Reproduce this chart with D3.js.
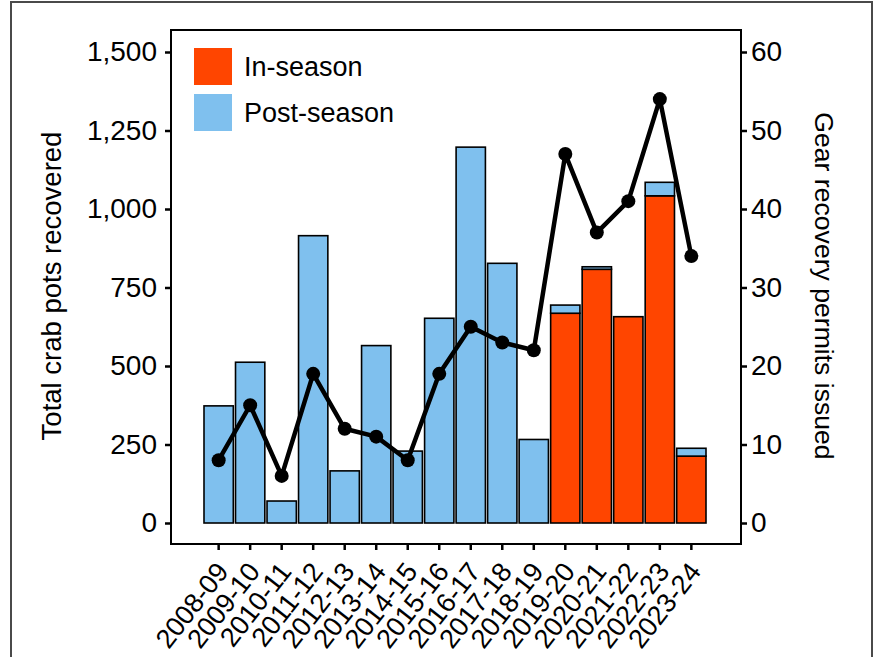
<!DOCTYPE html>
<html>
<head>
<meta charset="utf-8">
<script src="https://cdn.jsdelivr.net/npm/d3@7"></script>
<style>
  body { margin: 0; background: #fff; }
  svg text { font-family: "Liberation Sans", Arial, sans-serif; fill: #000; }
</style>
</head>
<body>
<div id="chart"></div>
<script>
// data
const seasons = ['2008-09', '2009-10', '2010-11', '2011-12', '2012-13', '2013-14', '2014-15', '2015-16',
  '2016-17', '2017-18', '2018-19', '2019-20', '2020-21', '2021-22', '2022-23', '2023-24'];
const inSeason = [0, 0, 0, 0, 0, 0, 0, 0, 0, 0, 0, 668, 808, 657, 1042, 213];
const postSeason = [373, 512, 70, 915, 166, 565, 229, 652, 1197, 827, 266, 26, 8, 0, 43, 25];
const permits = [8, 15, 6, 19, 12, 11, 8, 19, 25, 23, 22, 47, 37, 41, 54, 34];
const leftTicks = [0, 250, 500, 750, 1000, 1250, 1500];
const rightTicks = [0, 10, 20, 30, 40, 50, 60];

const width = 877, height = 657;
const panel = { left: 171, right: 741, top: 30, bottom: 544 };
const red = '#ff4500', blue = '#7fc0ee';

const svg = d3.select('#chart').append('svg')
  .attr('width', width)
  .attr('height', height);

// outer frame
svg.append('rect')
  .attr('x', 11).attr('y', 2)
  .attr('width', 861).attr('height', 720)
  .attr('fill', 'none')
  .attr('stroke', '#4a4a4a')
  .attr('stroke-width', 2);

const x = d3.scaleBand().domain(seasons).range([204, 706]).paddingInner(0.07);
const yL = d3.scaleLinear().domain([0, 1500]).range([523, 52]);
const yR = d3.scaleLinear().domain([0, 60]).range([523, 52]);

// bars: in-season at the bottom, post-season stacked on top
const bars = svg.append('g');
seasons.forEach((s, i) => {
  if (inSeason[i] > 0) {
    bars.append('rect')
      .attr('x', x(s)).attr('width', x.bandwidth())
      .attr('y', yL(inSeason[i])).attr('height', yL(0) - yL(inSeason[i]))
      .attr('fill', red).attr('stroke', '#000').attr('stroke-width', 1.6);
  }
  if (postSeason[i] > 0) {
    bars.append('rect')
      .attr('x', x(s)).attr('width', x.bandwidth())
      .attr('y', yL(inSeason[i] + postSeason[i])).attr('height', yL(inSeason[i]) - yL(inSeason[i] + postSeason[i]))
      .attr('fill', blue).attr('stroke', '#000').attr('stroke-width', 1.6);
  }
});

// permits line
const cx = s => x(s) + x.bandwidth() / 2;
const line = d3.line().x((d, i) => cx(seasons[i])).y(d => yR(d));
svg.append('path')
  .datum(permits)
  .attr('d', line)
  .attr('fill', 'none')
  .attr('stroke', '#000')
  .attr('stroke-width', 4.5)
  .attr('stroke-linejoin', 'round');
svg.append('g').selectAll('circle')
  .data(permits)
  .join('circle')
  .attr('cx', (d, i) => cx(seasons[i]))
  .attr('cy', d => yR(d))
  .attr('r', 7)
  .attr('fill', '#000');

// panel border
svg.append('rect')
  .attr('x', panel.left).attr('y', panel.top)
  .attr('width', panel.right - panel.left).attr('height', panel.bottom - panel.top)
  .attr('fill', 'none').attr('stroke', '#000').attr('stroke-width', 2);

// axes
const axL = svg.append('g')
  .attr('transform', `translate(${panel.left},0)`)
  .call(d3.axisLeft(yL).tickValues(leftTicks).tickFormat(d3.format(',')).tickSize(6).tickPadding(8));
const axR = svg.append('g')
  .attr('transform', `translate(${panel.right},0)`)
  .call(d3.axisRight(yR).tickValues(rightTicks).tickSize(6).tickPadding(4));
const axB = svg.append('g')
  .attr('transform', `translate(0,${panel.bottom})`)
  .call(d3.axisBottom(x).tickSize(6).tickPadding(4));

[axL, axR, axB].forEach(a => {
  a.select('.domain').remove();
  a.selectAll('.tick line').attr('stroke', '#000').attr('stroke-width', 2.5);
  a.selectAll('.tick text').attr('font-size', 28).attr('fill', '#000');
});

axB.selectAll('.tick text')
  .attr('font-size', 27)
  .attr('text-anchor', 'end')
  .attr('dy', null)
  .attr('y', null)
  .attr('transform', 'translate(11,28) rotate(-52)');

// axis titles
svg.append('text')
  .attr('transform', 'translate(61,286) rotate(-90)')
  .attr('text-anchor', 'middle')
  .attr('font-size', 27.5)
  .text('Total crab pots recovered');
svg.append('text')
  .attr('transform', 'translate(815,286) rotate(90)')
  .attr('text-anchor', 'middle')
  .attr('font-size', 26.6)
  .text('Gear recovery permits issued');

// legend
const legend = svg.append('g');
const legendItems = [['In-season', red], ['Post-season', blue]];
legendItems.forEach(([label, color], i) => {
  legend.append('rect')
    .attr('x', 194).attr('y', 48 + i * 46)
    .attr('width', 38).attr('height', 37)
    .attr('fill', color);
  legend.append('text')
    .attr('x', 244).attr('y', 48 + i * 46 + 18.5)
    .attr('dy', '0.35em')
    .attr('font-size', 27)
    .text(label);
});
</script>
</body>
</html>
